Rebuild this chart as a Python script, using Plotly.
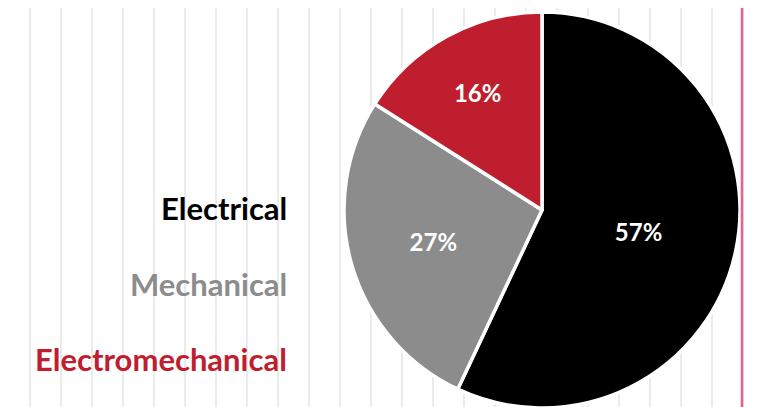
import plotly.graph_objects as go

categories = ["Electrical", "Mechanical", "Electromechanical"]
shares = [57, 27, 16]
slice_colors = ["#000000", "#8c8c8c", "#be1e2d"]
pct_labels = ["57%", "27%", "16%"]

W, H = 759, 407
OFF = 8  # page body margin compensation

def px_x(v):
    return (v - OFF) / W

def px_y(v):
    return 1 - (v - OFF) / H

fig = go.Figure()

# background vertical grid via invisible cartesian axes
fig.add_trace(go.Scatter(x=[0, W], y=[0, 1], mode="markers",
                         marker=dict(opacity=0), hoverinfo="skip", showlegend=False))

cx, cy, r = 542, 210, 198
fig.add_trace(go.Pie(
    labels=categories,
    values=shares,
    text=pct_labels,
    textinfo="text",
    textposition="inside",
    insidetextorientation="horizontal",
    sort=False,
    direction="clockwise",
    rotation=0,
    marker=dict(colors=slice_colors, line=dict(color="white", width=3.5)),
    textfont=dict(family="Lato", size=24, color="white", weight="bold"),
    domain=dict(x=[px_x(cx - r), px_x(cx + r)], y=[px_y(cy + r), px_y(cy - r)]),
    showlegend=False,
    hoverinfo="skip",
))

grid_positions = [30 - OFF + 31 * k for k in range(24)]

fig.update_xaxes(range=[0, W], tickvals=grid_positions, showticklabels=False,
                 showgrid=True, gridcolor="#ebebeb", gridwidth=1.5,
                 zeroline=False, showline=False, ticks="")
fig.update_yaxes(range=[0, 1], showgrid=False, showticklabels=False,
                 zeroline=False, showline=False, ticks="")

label_colors = ["#000000", "#8c8c8c", "#be1e2d"]
label_y = [208, 284, 359]
for name, col, yp in zip(categories, label_colors, label_y):
    fig.add_annotation(
        text=f"<b>{name}</b>", x=px_x(289), y=px_y(yp), xref="paper", yref="paper",
        xanchor="right", yanchor="middle", showarrow=False,
        font=dict(family="Lato", size=31, color=col),
    )

fig.add_shape(type="line", xref="paper", yref="paper",
              x0=px_x(742), x1=px_x(742), y0=0, y1=1,
              line=dict(color="#e8628c", width=2.5))

fig.update_layout(
    width=W, height=H,
    margin=dict(l=0, r=0, t=0, b=0),
    paper_bgcolor="white", plot_bgcolor="white",
)

fig.write_html("out.html")
